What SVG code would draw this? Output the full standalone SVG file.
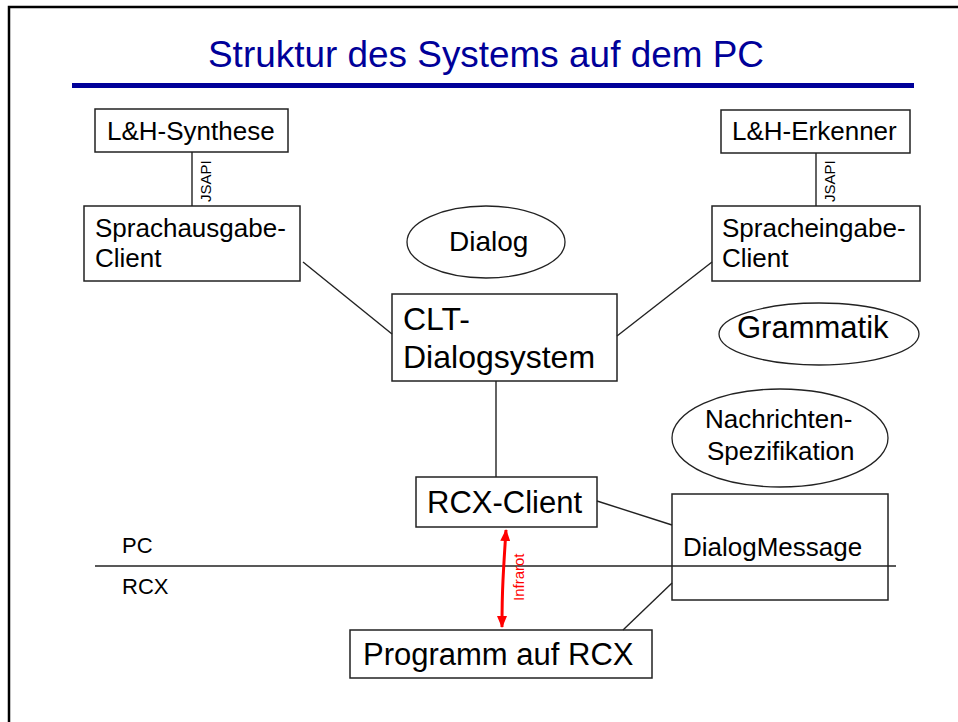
<svg xmlns="http://www.w3.org/2000/svg" width="958" height="722" viewBox="0 0 958 722">
<defs>
<style>
.box{fill:#fff;stroke:#222;stroke-width:1.5}
.ell{fill:#fff;stroke:#222;stroke-width:1.3}
.ln{stroke:#222;stroke-width:1.4;fill:none}
text{font-family:"Liberation Sans",Arial,sans-serif;fill:#000}
.lbl{font-size:15px}
</style>
<marker id="ah" viewBox="0 0 12 10" refX="11" refY="5" markerWidth="12" markerHeight="10" markerUnits="userSpaceOnUse" orient="auto-start-reverse">
<path d="M0,0 L12,5 L0,10 Z" fill="#ff0000"/>
</marker>
</defs>
<rect x="0" y="0" width="958" height="722" fill="#fff"/>
<rect x="9" y="7" width="960" height="730" fill="none" stroke="#000" stroke-width="2.5"/>
<text x="208" y="67" font-size="36" style="fill:#000099" textLength="556" lengthAdjust="spacingAndGlyphs">Struktur des Systems auf dem PC</text>
<rect x="72" y="83" width="842" height="5" fill="#000099"/>

<g id="lh-synthese">
<rect class="box" x="95" y="109" width="193" height="43"/>
<text x="107" y="140" font-size="26">L&amp;H-Synthese</text>
</g>
<g id="lh-erkenner">
<rect class="box" x="721" y="110" width="189" height="43"/>
<text x="732" y="140" font-size="26">L&amp;H-Erkenner</text>
</g>
<g id="sprachausgabe">
<rect class="box" x="84" y="206" width="216" height="75"/>
<text x="95" y="237" font-size="26">Sprachausgabe-</text>
<text x="95" y="267" font-size="26">Client</text>
</g>
<g id="spracheingabe">
<rect class="box" x="712" y="206" width="208" height="75"/>
<text x="722" y="237" font-size="26">Spracheingabe-</text>
<text x="722" y="267" font-size="26">Client</text>
</g>
<g id="dialog">
<ellipse class="ell" cx="486" cy="242" rx="79" ry="36"/>
<text x="449" y="251" font-size="28">Dialog</text>
</g>
<g id="clt">
<rect class="box" x="392" y="294" width="225" height="87"/>
<text x="403" y="330" font-size="32">CLT-</text>
<text x="403" y="368" font-size="32">Dialogsystem</text>
</g>
<g id="grammatik">
<ellipse class="ell" cx="819" cy="334" rx="100" ry="31"/>
<text x="737" y="338" font-size="31">Grammatik</text>
</g>
<g id="nachrichten">
<ellipse class="ell" cx="780" cy="438" rx="108" ry="49"/>
<text x="705" y="428" font-size="26">Nachrichten-</text>
<text x="707" y="460" font-size="26">Spezifikation</text>
</g>
<g id="rcx-client">
<rect class="box" x="416" y="477" width="181" height="50"/>
<text x="427" y="513" font-size="31">RCX-Client</text>
</g>
<g id="dialogmessage">
<rect class="box" x="672" y="494" width="216" height="106" style="fill:none"/>
<text x="683" y="556" font-size="26">DialogMessage</text>
</g>
<g id="programm">
<rect class="box" x="350" y="630" width="302" height="48"/>
<text x="363" y="665" font-size="31">Programm auf RCX</text>
</g>
<g id="labels">
<text x="122" y="553" font-size="22">PC</text>
<text x="122" y="594" font-size="22">RCX</text>
</g>

<g id="connectors">
<line class="ln" x1="192" y1="152" x2="192" y2="206"/>
<line class="ln" x1="816" y1="153" x2="816" y2="206"/>
<line class="ln" x1="303" y1="262" x2="392" y2="334"/>
<line class="ln" x1="712" y1="262" x2="617" y2="336"/>
<line class="ln" x1="496" y1="381" x2="496" y2="477"/>
<line class="ln" x1="597" y1="501" x2="672" y2="525"/>
<line class="ln" x1="672" y1="583" x2="623" y2="630"/>
<line class="ln" x1="95" y1="566" x2="896" y2="566"/>
<path d="M506,530 Q504,560 503,580 Q502,600 502,627" fill="none" stroke="#ff0000" stroke-width="3" marker-start="url(#ah)" marker-end="url(#ah)"/>
<text class="lbl" transform="translate(211,202) rotate(-90)">JSAPI</text>
<text class="lbl" transform="translate(835,202) rotate(-90)">JSAPI</text>
<text transform="translate(524,601) rotate(-90)" font-size="15" style="fill:#ff0000">Infrarot</text>
</g>
</svg>
